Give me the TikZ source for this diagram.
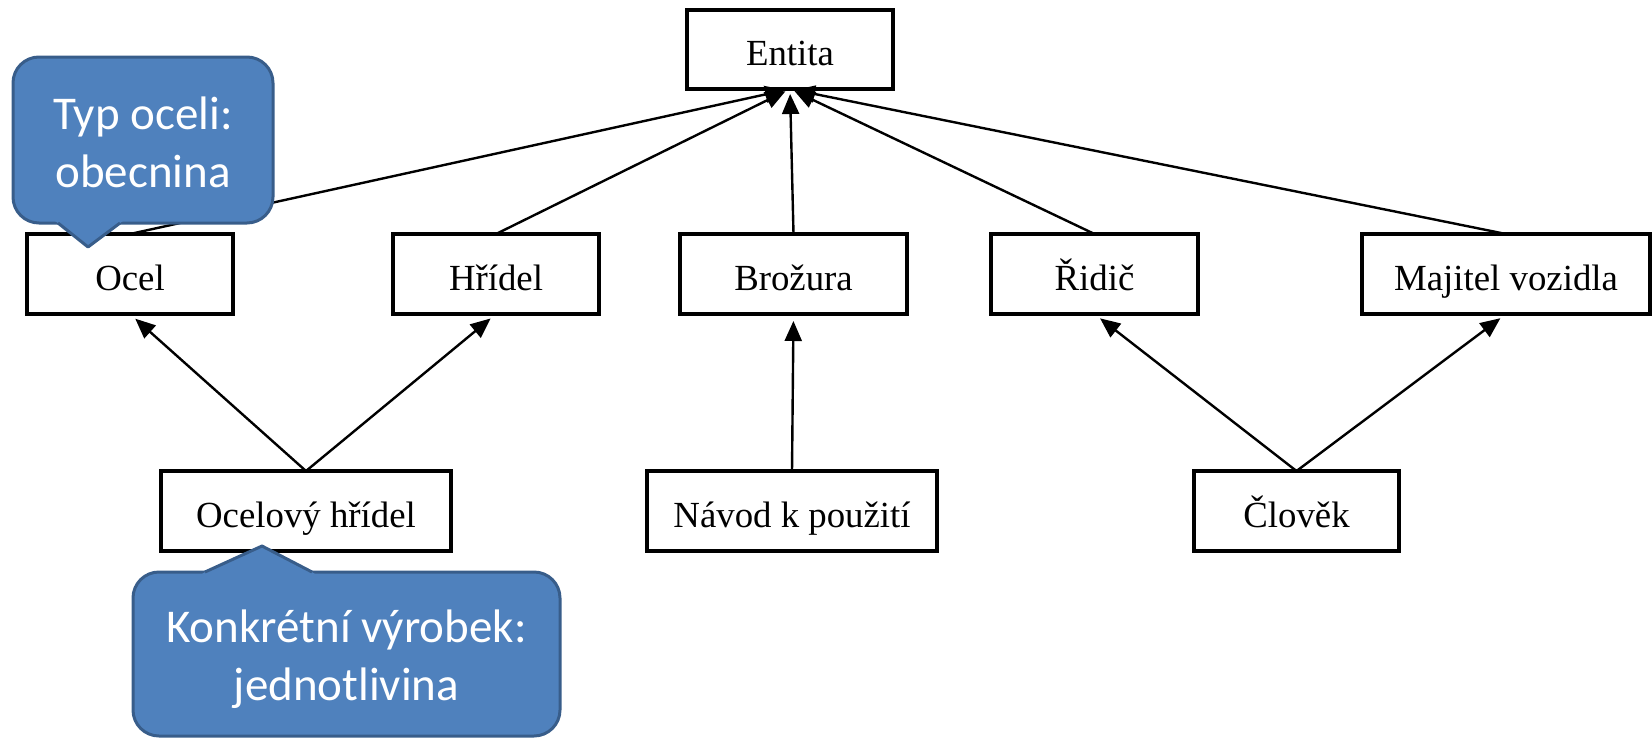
\documentclass[tikz,border=0pt]{standalone}
\usepackage{fontspec}
\setmainfont{Liberation Serif}
\newfontfamily\calloutfont{Carlito}
\usetikzlibrary{arrows.meta}

\definecolor{callfill}{HTML}{4F81BD}
\definecolor{callline}{HTML}{385D8A}

\tikzset{
  entitybox/.style={draw, line width=1.6pt, inner sep=0pt, outer sep=0pt,
    minimum height=40pt, text height=18pt, text depth=2pt,
    font=\fontsize{18.4}{22}\selectfont},
  isa/.style={line width=1.2pt, -{Triangle[length=10pt,width=8.5pt]}},
  calloutfill/.style={fill=callfill},
  calloutedge/.style={draw=callline, line width=1.5pt, line join=round},
  callouttext/.style={text=white, align=center, anchor=base, inner sep=0pt,
    font=\calloutfont\fontsize{23.5}{29}\selectfont}
}

\begin{document}
\begin{tikzpicture}[x=0.5pt,y=-0.5pt]
\useasboundingbox (0,0) rectangle (1652,739);

% boxes
\node[entitybox, minimum width=103pt, minimum height=39.5pt] (entita) at (790,49.5) {Entita};
\node[entitybox, minimum width=103pt]   (ocel)    at (130,274)    {Ocel};
\node[entitybox, minimum width=103pt]   (hridel)  at (496,274)    {Hřídel};
\node[entitybox, minimum width=113.5pt] (brozura) at (793.5,274)  {Brožura};
\node[entitybox, minimum width=103.5pt] (ridic)   at (1094.5,274) {Řidič};
\node[entitybox, minimum width=144pt]   (majitel) at (1506,274)   {Majitel vozidla};
\node[entitybox, minimum width=145pt]   (ohridel) at (306,511)    {Ocelový hřídel};
\node[entitybox, minimum width=145pt]   (navod)   at (792,511)    {Návod k použití};
\node[entitybox, minimum width=102.5pt] (clovek)  at (1296.5,511) {Člověk};

% generalisation arrows to the root
\foreach \n in {ocel,hridel,brozura,ridic,majitel}
  \draw[isa, shorten >=2.5pt] (\n.north) -- (entita.south);

% lower level arrows
\draw[isa, shorten >=3.5pt] (ohridel.north) -- (ocel.south);
\draw[isa, shorten >=3.5pt] (ohridel.north) -- (hridel.south);
\draw[isa, shorten >=3.5pt] (navod.north) -- (brozura.south);
\draw[isa, shorten >=3.5pt] (clovek.north) -- (ridic.south);
\draw[isa, shorten >=3.5pt] (clovek.north) -- (majitel.south);

% callout: type of steel
\fill[calloutfill, rounded corners=13pt] (13,57) rectangle (273,223);
\draw[calloutedge, rounded corners=13pt] (13,57) rectangle (273,223);
\fill[calloutfill] (52,219) -- (58,223) -- (88,247) -- (120,223) -- (126,219) -- cycle;
\draw[calloutedge] (58,223) -- (88,247) -- (120,223);
\node[callouttext] (typ) at (143,187) {Typ oceli:\\obecnina};

% callout: concrete product
\fill[calloutfill, rounded corners=13pt] (133,572) rectangle (560,736);
\draw[calloutedge, rounded corners=13pt] (133,572) rectangle (560,736);
\fill[calloutfill] (199,576) -- (205,572) -- (262,546) -- (312,572) -- (318,576) -- cycle;
\draw[calloutedge] (205,572) -- (262,546) -- (312,572);
\node[callouttext] (konk) at (346.5,700) {Konkrétní výrobek:\\jednotlivina};
\end{tikzpicture}
\end{document}
